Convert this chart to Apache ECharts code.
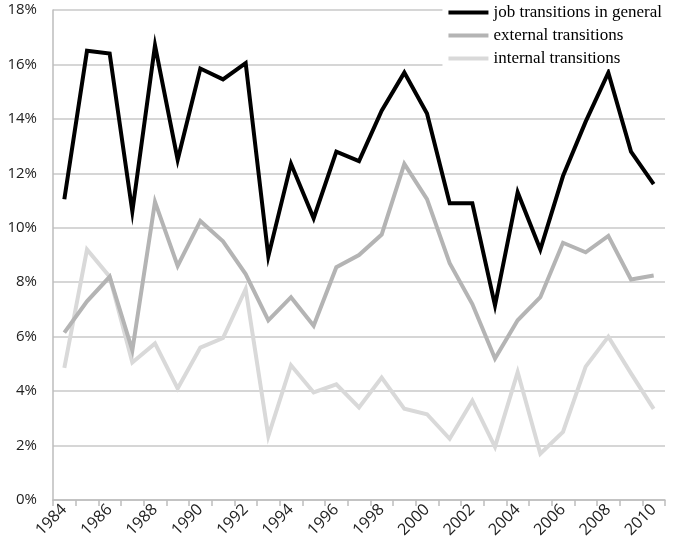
<!DOCTYPE html>
<html><head><meta charset="utf-8">
<script src="https://cdn.jsdelivr.net/npm/echarts@6/dist/echarts.min.js"></script>
<style>html,body{margin:0;padding:0;background:#fff}#c{width:680px;height:554px}</style>
</head><body><div id="c"></div>
<script>
const years = ['1984','1985','1986','1987','1988','1989','1990','1991','1992','1993','1994','1995','1996','1997','1998','1999','2000','2001','2002','2003','2004','2005','2006','2007','2008','2009','2010'];
const general = [11.05,16.5,16.4,10.6,16.7,12.5,15.85,15.45,16.05,8.95,12.35,10.35,12.8,12.45,14.3,15.7,14.2,10.9,10.9,7.15,11.3,9.2,11.9,13.9,15.7,12.8,11.6];
const external = [6.15,7.3,8.2,5.5,10.95,8.6,10.25,9.5,8.3,6.6,7.45,6.4,8.55,9.0,9.75,12.35,11.05,8.7,7.2,5.2,6.6,7.45,9.45,9.1,9.7,8.1,8.25];
const internal = [4.85,9.2,8.2,5.05,5.75,4.1,5.6,5.95,7.75,2.35,4.95,3.95,4.25,3.4,4.5,3.35,3.15,2.25,3.65,1.95,4.7,1.7,2.5,4.9,6.0,4.65,3.35];
const names = ['job transitions in general','external transitions','internal transitions'];
const colors = ['#000000','#b4b4b4','#d9d9d9'];

const chart = echarts.init(document.getElementById('c'));
const mk = (name, data, color, z) => ({
  name, type:'line', data, symbol:'none', z,
  lineStyle:{color, width:4, join:'miter'}, itemStyle:{color}
});
chart.setOption({
  animation:false,
  backgroundColor:'#fff',
  grid:{left:53, right:15, top:10, bottom:54},
  legend:{
    orient:'vertical', right:14, top:2, z:10,
    backgroundColor:'#fff', padding:[2,4,2,6], itemGap:6,
    itemWidth:40, itemHeight:14, icon:'path://M0,5 L40,5 L40,9 L0,9 Z',
    textStyle:{fontFamily:'Liberation Serif', fontSize:17, color:'#000'},
    data:names
  },
  xAxis:{
    type:'category', data:years, boundaryGap:true,
    axisLine:{lineStyle:{color:'#bdbdbd', width:1.5}},
    axisTick:{show:true, length:6, interval:0, lineStyle:{color:'#bdbdbd', width:1.5}},
    axisLabel:{interval:1, rotate:45, fontFamily:'Open Sans', fontSize:16, color:'#222', margin:7, padding:[0,0,0,0]},
    splitLine:{show:false}
  },
  yAxis:{
    type:'value', min:0, max:18, interval:2,
    axisLine:{show:true, lineStyle:{color:'#bdbdbd', width:1.5}},
    axisTick:{show:false},
    axisLabel:{formatter:'{value}%', fontFamily:'Open Sans', fontSize:15, color:'#222', margin:16},
    splitLine:{lineStyle:{color:'#c8c8c8', width:1.5}}
  },
  series:[
    mk(names[2], internal, colors[2], 2),
    mk(names[1], external, colors[1], 3),
    mk(names[0], general, colors[0], 4)
  ]
});
</script></body></html>
